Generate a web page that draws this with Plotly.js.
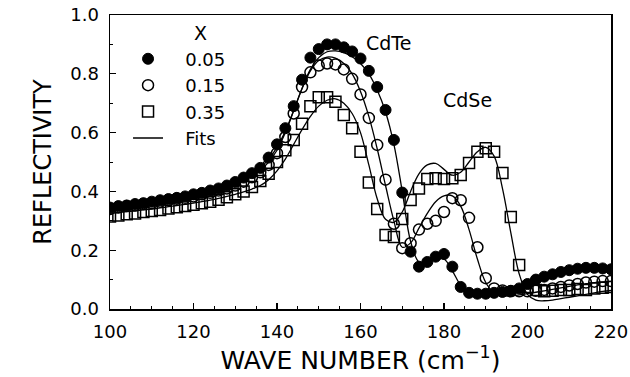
<!DOCTYPE html>
<html>
<head>
<meta charset="utf-8">
<script src="https://cdn.plot.ly/plotly-3.0.1.min.js"></script>
<style>html,body{margin:0;padding:0;background:#fff;}#chart{width:630px;height:377px;}</style>
</head>
<body>
<div id="chart"></div>
<script>
// Measured points (wave number, cm^-1) every 2 units
const waveNumbers = [100,102,104,106,108,110,112,114,116,118,120,122,124,126,128,130,132,134,136,138,140,142,144,146,148,150,152,154,156,158,160,162,164,166,168,170,172,174,176,178,180,182,184,186,188,190,192,194,196,198,200,202,204,206,208,210,212,214,216,218,220];

const refl005 = [0.345,0.35,0.352,0.357,0.36,0.365,0.37,0.374,0.378,0.383,0.39,0.395,0.403,0.41,0.42,0.432,0.447,0.462,0.48,0.515,0.56,0.615,0.69,0.78,0.855,0.884,0.9,0.9,0.89,0.876,0.852,0.81,0.755,0.677,0.575,0.396,0.195,0.144,0.16,0.178,0.187,0.144,0.075,0.055,0.052,0.052,0.055,0.058,0.062,0.07,0.085,0.1,0.11,0.118,0.126,0.132,0.137,0.14,0.14,0.138,0.135];

const refl015 = [0.34,0.345,0.35,0.352,0.357,0.36,0.365,0.37,0.375,0.378,0.383,0.39,0.395,0.403,0.41,0.42,0.433,0.448,0.465,0.49,0.53,0.585,0.665,0.755,0.805,0.828,0.835,0.832,0.815,0.783,0.73,0.65,0.558,0.44,0.29,0.207,0.224,0.27,0.29,0.30,0.33,0.377,0.37,0.31,0.21,0.105,0.07,0.063,0.06,0.06,0.06,0.062,0.065,0.07,0.075,0.08,0.085,0.09,0.093,0.095,0.095];

const refl035 = [0.315,0.318,0.322,0.325,0.33,0.333,0.337,0.342,0.346,0.35,0.355,0.36,0.365,0.372,0.38,0.39,0.40,0.415,0.435,0.46,0.50,0.54,0.575,0.63,0.69,0.72,0.72,0.705,0.66,0.615,0.535,0.43,0.34,0.252,0.245,0.306,0.371,0.41,0.442,0.445,0.442,0.445,0.456,0.497,0.535,0.547,0.535,0.463,0.313,0.15,0.075,0.065,0.06,0.062,0.065,0.065,0.068,0.065,0.07,0.072,0.075];

// Fit curves
const fitX = waveNumbers;
const fit005 = [0.34,0.345,0.35,0.354,0.358,0.362,0.366,0.37,0.375,0.38,0.386,0.392,0.4,0.408,0.418,0.43,0.444,0.46,0.48,0.51,0.55,0.605,0.675,0.75,0.815,0.855,0.875,0.878,0.872,0.858,0.835,0.8,0.745,0.67,0.56,0.4,0.23,0.16,0.158,0.172,0.17,0.13,0.08,0.055,0.048,0.048,0.05,0.055,0.062,0.07,0.082,0.095,0.105,0.115,0.122,0.128,0.132,0.135,0.136,0.135,0.133];
const fit015 = [0.335,0.34,0.345,0.349,0.353,0.357,0.361,0.365,0.37,0.375,0.38,0.386,0.393,0.4,0.41,0.422,0.436,0.452,0.472,0.5,0.54,0.6,0.675,0.75,0.81,0.845,0.857,0.853,0.835,0.8,0.74,0.655,0.545,0.42,0.3,0.21,0.225,0.275,0.325,0.365,0.385,0.385,0.35,0.27,0.17,0.09,0.055,0.045,0.045,0.048,0.052,0.057,0.062,0.067,0.072,0.077,0.082,0.086,0.09,0.092,0.094];
const fit035 = [0.325,0.328,0.331,0.334,0.337,0.34,0.344,0.348,0.352,0.356,0.36,0.365,0.37,0.376,0.383,0.39,0.398,0.408,0.42,0.44,0.47,0.51,0.56,0.61,0.655,0.69,0.71,0.715,0.70,0.665,0.6,0.49,0.375,0.305,0.295,0.33,0.4,0.46,0.49,0.495,0.475,0.455,0.465,0.5,0.535,0.55,0.52,0.41,0.26,0.12,0.05,0.03,0.028,0.03,0.035,0.04,0.045,0.05,0.055,0.06,0.063];

const seriesNames = ["0.05","0.15","0.35","Fits"];
const legendTitle = "X";
const labelCdTe = "CdTe";
const labelCdSe = "CdSe";

const FONT = "DejaVu Sans, Liberation Sans, Arial, sans-serif";
const PAD = "\u00A0\u00A0\u00A0"; // visual gap between legend symbol and label
const fitLine = {color:"#000", width:1.3, shape:"spline", smoothing:1};

const traces = [
  {x:fitX, y:fit005, mode:"lines", line:fitLine, showlegend:false, hoverinfo:"skip"},
  {x:fitX, y:fit015, mode:"lines", line:fitLine, showlegend:false, hoverinfo:"skip"},
  {x:fitX, y:fit035, mode:"lines", line:fitLine, name:PAD + seriesNames[3], legendrank:4},
  {x:waveNumbers, y:refl005, mode:"markers", name:PAD + seriesNames[0], legendrank:1,
   marker:{symbol:"circle", size:11, color:"#000", line:{color:"#000", width:1}}},
  {x:waveNumbers, y:refl015, mode:"markers", name:PAD + seriesNames[1], legendrank:2,
   marker:{symbol:"circle-open", size:11, color:"#000", line:{color:"#000", width:1.5}}},
  {x:waveNumbers, y:refl035, mode:"markers", name:PAD + seriesNames[2], legendrank:3,
   marker:{symbol:"square-open", size:11, color:"#000", line:{color:"#000", width:1.5}}}
];

const axisCommon = {
  showgrid:false, zeroline:false, showline:true, linecolor:"#000", linewidth:1.5,
  mirror:true, ticks:"inside", ticklen:6, tickwidth:1.2, tickcolor:"#000",
  tickfont:{family:FONT, size:18, color:"#000"}
};

const layout = {
  width:630, height:377,
  margin:{l:110, r:19, t:15, b:68},
  paper_bgcolor:"#fff", plot_bgcolor:"#fff",
  font:{family:FONT, color:"#000"},
  xaxis:Object.assign({}, axisCommon, {
    range:[100,220], tickvals:[100,120,140,160,180,200,220],
    minor:{dtick:5, tick0:100, ticks:"inside", ticklen:3, tickcolor:"#000", tickwidth:1},
    ticklabelstandoff:6,
    title:{text:"WAVE NUMBER (cm<sup>−1</sup>)", font:{family:FONT, size:25, color:"#000"}, standoff:3}
  }),
  yaxis:Object.assign({}, axisCommon, {
    range:[0,1.0], tickvals:[0,0.2,0.4,0.6,0.8,1.0], tickformat:".1f",
    minor:{dtick:0.1, tick0:0, ticks:"inside", ticklen:3, tickcolor:"#000", tickwidth:1},
    ticklabelstandoff:6,
    title:{text:"REFLECTIVITY", font:{family:FONT, size:24, color:"#000"}, standoff:12}
  }),
  showlegend:true,
  legend:{x:0.036, y:0.913, xanchor:"left", yanchor:"top", bgcolor:"rgba(0,0,0,0)",
    font:{family:FONT, size:18, color:"#000"}, itemwidth:30, traceorder:"normal", tracegroupgap:0},
  annotations:[
    {x:121.6, y:0.94, xref:"x", yref:"y", text:legendTitle, showarrow:false, font:{family:FONT, size:19, color:"#000"}},
    {x:166.6, y:0.905, xref:"x", yref:"y", text:labelCdTe, showarrow:false, font:{family:FONT, size:19, color:"#000"}},
    {x:185.7, y:0.711, xref:"x", yref:"y", text:labelCdSe, showarrow:false, font:{family:FONT, size:19, color:"#000"}}
  ]
};

Plotly.newPlot("chart", traces, layout, {staticPlot:true, displayModeBar:false});
</script>
</body>
</html>
